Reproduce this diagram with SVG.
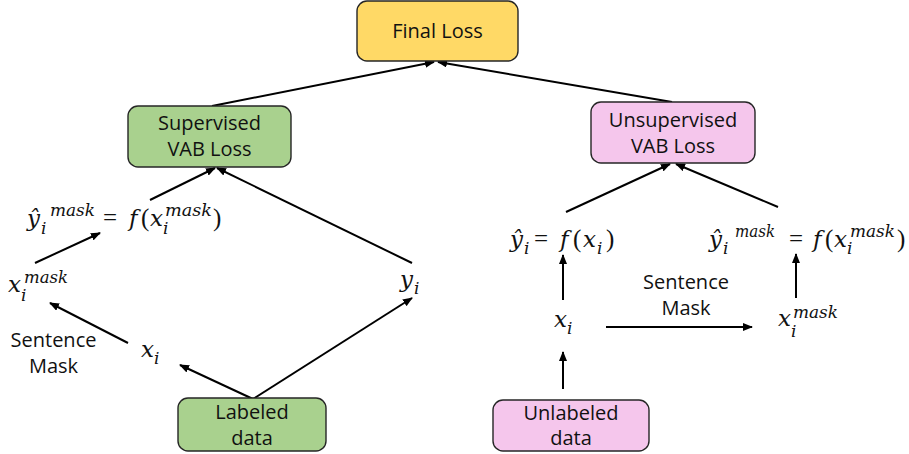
<svg xmlns="http://www.w3.org/2000/svg" width="909" height="454" viewBox="0 0 909 454">
<defs>
<style>
.box{stroke:#262626;stroke-width:1.4}
.y{fill:#FFD966}.g{fill:#A9D18E}.p{fill:#F5C6EC}
.lbl{font-family:"Open Sans","Liberation Sans",sans-serif;font-size:20px;fill:#111;text-anchor:middle}
.m{font-family:"DejaVu Serif","Liberation Serif",serif;font-style:italic;font-size:23px;fill:#111}
.s{font-family:"DejaVu Serif","Liberation Serif",serif;font-style:italic;font-size:17px;fill:#111}
.u{font-family:"Liberation Serif","DejaVu Serif",serif;font-size:25px;fill:#111}
.c line{stroke:#000;stroke-width:2;marker-end:url(#ah)}
</style>
<marker id="ah" markerUnits="userSpaceOnUse" markerWidth="10" markerHeight="8" viewBox="0 0 10 8" refX="9" refY="4" orient="auto">
<path d="M0,0 L10,4 L0,8 z" fill="#000"/>
</marker>
</defs>
<g class="c" id="connectors">
<line x1="212" y1="106" x2="434" y2="62"/>
<line x1="672" y1="102" x2="438" y2="62"/>
<line x1="150" y1="200" x2="215" y2="168"/>
<line x1="412" y1="263" x2="217" y2="168"/>
<line x1="35" y1="263" x2="100" y2="233"/>
<line x1="128" y1="343" x2="50" y2="303"/>
<line x1="253" y1="399" x2="180" y2="365"/>
<line x1="253" y1="399" x2="412" y2="298"/>
<line x1="566" y1="212" x2="670" y2="164"/>
<line x1="778" y1="207" x2="676" y2="164"/>
<line x1="563" y1="300" x2="563" y2="255"/>
<line x1="563" y1="389" x2="563" y2="352"/>
<line x1="606" y1="327" x2="752" y2="327"/>
<line x1="796" y1="298" x2="796" y2="254"/>
</g>
<g id="final-loss">
<rect class="box y" x="357" y="1" width="161" height="60" rx="10"/>
<text class="lbl" x="437.5" y="38">Final Loss</text>
</g>
<g id="supervised-loss">
<rect class="box g" x="128" y="106" width="163" height="61" rx="10"/>
<text class="lbl" x="209.5" y="130">Supervised</text>
<text class="lbl" x="209.5" y="156">VAB Loss</text>
</g>
<g id="unsupervised-loss">
<rect class="box p" x="591" y="102" width="164" height="61" rx="10"/>
<text class="lbl" x="673" y="127">Unsupervised</text>
<text class="lbl" x="673" y="153">VAB Loss</text>
</g>
<g id="labeled-data">
<rect class="box g" x="178" y="398" width="148" height="53" rx="10"/>
<text class="lbl" x="252" y="419">Labeled</text>
<text class="lbl" x="252" y="445">data</text>
</g>
<g id="unlabeled-data">
<rect class="box p" x="493" y="400" width="156" height="51" rx="10"/>
<text class="lbl" x="571" y="420">Unlabeled</text>
<text class="lbl" x="571" y="445">data</text>
</g>
<g id="left-pred">
<text class="m" x="27" y="226">ŷ</text>
<text class="s" x="41" y="234">i</text>
<text class="s" x="50" y="216" textLength="45" lengthAdjust="spacingAndGlyphs">mask</text>
<text class="u" x="103" y="226">=</text>
<text class="m" x="129" y="226">f</text>
<text class="u" x="141" y="226">(</text>
<text class="m" x="150" y="226">x</text>
<text class="s" x="163" y="234">i</text>
<text class="s" x="165" y="216" textLength="47" lengthAdjust="spacingAndGlyphs">mask</text>
<text class="u" x="213" y="226">)</text>
</g>
<g id="left-xmask">
<text class="m" x="8" y="292">x</text>
<text class="s" x="21" y="301">i</text>
<text class="s" x="24" y="283" textLength="44" lengthAdjust="spacingAndGlyphs">mask</text>
</g>
<g id="left-x">
<text class="m" x="141" y="357">x</text>
<text class="s" x="154" y="364">i</text>
</g>
<g id="left-y">
<text class="m" x="400" y="287">y</text>
<text class="s" x="414" y="294">i</text>
</g>
<g id="left-mask-label">
<text class="lbl" x="53.5" y="347">Sentence</text>
<text class="lbl" x="53.5" y="373">Mask</text>
</g>
<g id="right-pred">
<text class="m" x="510" y="247">ŷ</text>
<text class="s" x="524" y="254">i</text>
<text class="u" x="534" y="247">=</text>
<text class="m" x="560" y="247">f</text>
<text class="u" x="573" y="247">(</text>
<text class="m" x="583" y="247">x</text>
<text class="s" x="597" y="254">i</text>
<text class="u" x="606" y="247">)</text>
</g>
<g id="right-pred-mask">
<text class="m" x="709" y="247">ŷ</text>
<text class="s" x="723" y="254">i</text>
<text class="s" x="735" y="237" textLength="40" lengthAdjust="spacingAndGlyphs">mask</text>
<text class="u" x="789" y="247">=</text>
<text class="m" x="813" y="247">f</text>
<text class="u" x="825" y="247">(</text>
<text class="m" x="834" y="247">x</text>
<text class="s" x="847" y="254">i</text>
<text class="s" x="850" y="237" textLength="45" lengthAdjust="spacingAndGlyphs">mask</text>
<text class="u" x="897" y="247">)</text>
</g>
<g id="right-x">
<text class="m" x="554" y="327">x</text>
<text class="s" x="567" y="334">i</text>
</g>
<g id="right-xmask">
<text class="m" x="778" y="326">x</text>
<text class="s" x="791" y="337">i</text>
<text class="s" x="793" y="318" textLength="45" lengthAdjust="spacingAndGlyphs">mask</text>
</g>
<g id="right-mask-label">
<text class="lbl" x="686" y="289">Sentence</text>
<text class="lbl" x="686" y="315">Mask</text>
</g>
</svg>
